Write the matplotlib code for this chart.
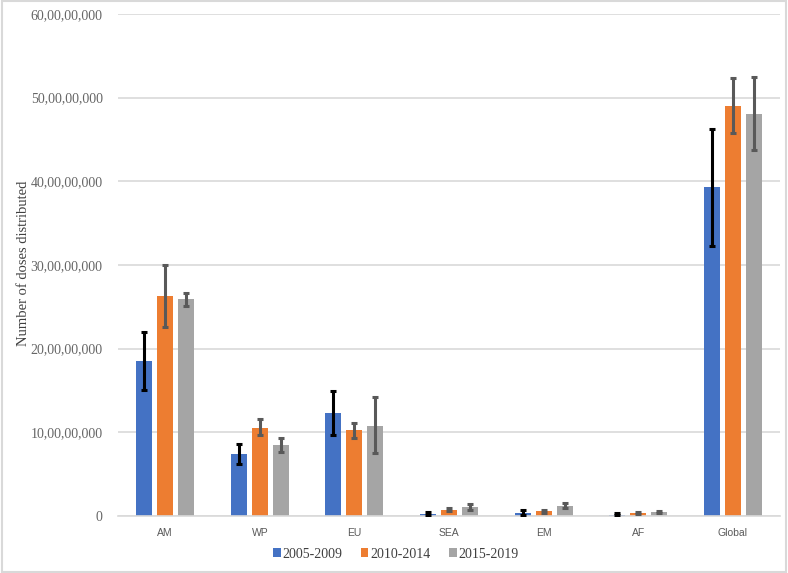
import numpy as np
import matplotlib.pyplot as plt
from matplotlib.ticker import FuncFormatter
from matplotlib.patches import Rectangle

regions = ["AM", "WP", "EU", "SEA", "EM", "AF", "Global"]
periods = ["2005-2009", "2010-2014", "2015-2019"]

# doses distributed (millions) and error bar ends (millions)
doses_0509 = [185, 74, 123, 2.4, 4.0, 1.5, 393]
low_0509 = [151, 62.5, 96.5, 1.0, 1.2, 0.8, 323]
high_0509 = [220, 86, 150, 4.5, 7.6, 3.0, 462]

doses_1014 = [263, 105.5, 102.5, 7.6, 5.4, 3.5, 490.5]
low_1014 = [226, 96.5, 93.5, 6.0, 4.0, 2.5, 458]
high_1014 = [300, 116, 111, 9.5, 7.0, 4.5, 523]

doses_1519 = [259, 84.5, 107.5, 10.5, 12.0, 5.0, 481]
low_1519 = [251, 76.5, 75, 7.0, 9.5, 4.0, 437]
high_1519 = [266, 93, 142, 14.0, 15.0, 6.0, 525]

colors = ["#4472C4", "#ED7D31", "#A5A5A5"]
err_colors = ["black", "#595959", "#595959"]

series = [
    (doses_0509, low_0509, high_0509),
    (doses_1014, low_1014, high_1014),
    (doses_1519, low_1519, high_1519),
]


def indian_fmt(v, pos):
    n = int(round(v))
    if n == 0:
        return "0"
    s = str(n)
    last3 = s[-3:]
    rest = s[:-3]
    parts = []
    while len(rest) > 2:
        parts.insert(0, rest[-2:])
        rest = rest[:-2]
    if rest:
        parts.insert(0, rest)
    return ",".join(parts + [last3])


fig = plt.figure(figsize=(7.88, 5.73), dpi=100)
ax = fig.add_axes([118 / 788, 57 / 573, 662 / 788, 502 / 573])

x = np.arange(len(regions))
width = 0.17
offset = 0.222
for i, (vals, lo, hi) in enumerate(series):
    vals = np.array(vals) * 1e6
    lo = np.array(lo) * 1e6
    hi = np.array(hi) * 1e6
    pos = x + (i - 1) * offset
    ax.bar(pos, vals, width, color=colors[i], label=periods[i], zorder=2)
    ax.errorbar(pos, vals, yerr=[vals - lo, hi - vals], fmt="none",
                ecolor=err_colors[i], elinewidth=2.2, capsize=2.5,
                capthick=2.2, zorder=3)

ax.set_xlim(-0.5, len(regions) - 0.5)
ax.set_ylim(0, 6e8)
ax.set_yticks(np.arange(0, 6.01e8, 1e8))
ax.yaxis.set_major_formatter(FuncFormatter(indian_fmt))
ax.set_xticks(x)
ax.set_xticklabels(regions, fontfamily="Liberation Sans", fontsize=7.5,
                   color="#595959")
for lbl in ax.get_yticklabels():
    lbl.set_fontfamily("Liberation Serif")
    lbl.set_fontsize(10)
    lbl.set_color("#666666")
ax.tick_params(axis="both", length=0)
ax.tick_params(axis="y", pad=11)
ax.tick_params(axis="x", pad=9)
ax.grid(axis="y", color="#D9D9D9", linewidth=1.2, zorder=0)
ax.set_axisbelow(True)
for s in ["top", "right", "left"]:
    ax.spines[s].set_visible(False)
ax.spines["bottom"].set_color("#D9D9D9")
ax.spines["bottom"].set_linewidth(1.2)

fig.text(24 / 788, 1 - 263 / 573, "Number of doses distributed", rotation=90,
         ha="center", va="center", fontfamily="Liberation Serif",
         fontsize=10.5, color="#404040")

leg = fig.legend(loc="center", bbox_to_anchor=(0.5025, 1 - 554 / 573), ncol=3,
                 frameon=False, prop={"family": "Liberation Serif", "size": 10},
                 handlelength=0.55, handleheight=0.55, handletextpad=0.15,
                 columnspacing=1.3)
for t in leg.get_texts():
    t.set_color("#404040")

fig.patches.append(Rectangle((0.002, 0.002), 0.996, 0.996,
                             transform=fig.transFigure, fill=False,
                             edgecolor="#D9D9D9", linewidth=1.5))

fig.savefig("out.png", dpi=100)
